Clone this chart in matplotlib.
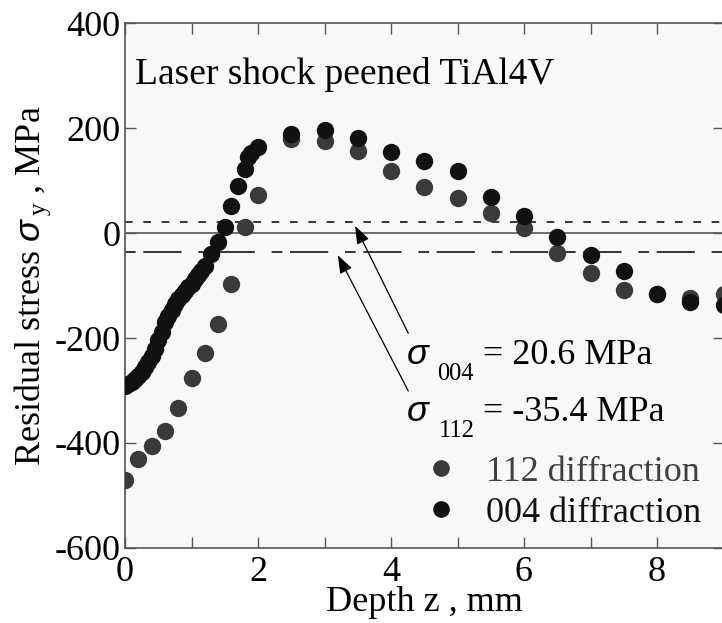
import numpy as np
import matplotlib
matplotlib.use('Agg')
import matplotlib.pyplot as plt
from matplotlib.lines import Line2D

plt.rcParams['font.family'] = ['Liberation Serif', 'DejaVu Serif']
plt.rcParams['mathtext.fontset'] = 'custom'
plt.rcParams['mathtext.rm'] = 'Liberation Serif'
plt.rcParams['mathtext.it'] = 'Liberation Sans:italic'
plt.rcParams['axes.unicode_minus'] = False

# 112 diffraction
depth112 = [0.0, 0.2, 0.4, 0.6, 0.8, 1.0, 1.2, 1.4, 1.6, 1.8, 2.0, 2.5,
            3.0, 3.5, 4.0, 4.5, 5.0, 5.5, 6.0, 6.5, 7.0, 7.5, 8.0, 8.5, 9.0]
stress112 = [-471, -430, -406, -377, -334, -276, -228, -174, -96, 12, 73, 180,
             176, 156, 118, 88, 67, 38, 10, -38, -76, -108, -116, -123, -116]

# 004 diffraction
depth004 = [0.0, 0.05, 0.1, 0.15, 0.2, 0.25, 0.3, 0.35, 0.4, 0.45, 0.5, 0.55,
            0.6, 0.65, 0.7, 0.75, 0.8, 0.85, 0.9, 0.95, 1.0, 1.05, 1.1, 1.15,
            1.2, 1.3, 1.4, 1.5, 1.6, 1.7, 1.8, 1.85, 1.9, 2.0, 2.5,
            3.0, 3.5, 4.0, 4.5, 5.0, 5.5, 6.0, 6.5, 7.0, 7.5, 8.0, 8.5, 9.0]
stress004 = [-291, -288, -283, -278, -272, -265, -256, -246, -234, -220, -203, -188,
             -170, -158, -147, -136, -126, -118, -110, -103, -96, -88, -80, -72,
             -63, -40, -17, 12, 52, 90, 122, 145, 153, 165, 189,
             197, 181, 155, 138, 118, 69, 32, -8, -41, -73, -116, -132, -137]

mean004 = 20.6
mean112 = -35.4

c112 = '#3a3a3a'
c004 = '#111111'
fs = 26

fig = plt.figure(figsize=(7.22, 6.23), dpi=100)
ax = fig.add_axes([125 / 722, 75.3 / 623, 598.5 / 722, 524.2 / 623])
ax.set_facecolor('#f8f8f8')

ax.axhline(0, color='#555555', lw=1.2, zorder=1)
ax.axhline(mean004, color='black', lw=1.1, dashes=(5, 7), zorder=1)
ax.axhline(mean112, color='black', lw=1.1, dashes=(7, 5, 25, 11), zorder=1)

ax.plot(depth112, stress112, 'o', color=c112, ms=12.5, mec='none', zorder=3)
ax.plot(depth004, stress004, 'o', color=c004, ms=12.5, mec='none', zorder=4)

ax.set_xlim(0, 9)
ax.set_ylim(-600, 400)
ax.set_xticks(np.arange(0, 10, 2))
ax.set_xticks(np.arange(0, 10, 1), minor=True)
ax.set_yticks(np.arange(-600, 401, 200))
ax.tick_params(which='both', direction='in', length=8, width=1, color='#555555',
               top=True, right=True, labelsize=fs, pad=3)
ax.tick_params(axis='x', pad=6)
for s in ax.spines.values():
    s.set_color('#555555')
    s.set_linewidth(1.2)

ax.set_xlabel('Depth z , mm', fontsize=fs, labelpad=-2)
ax.set_ylabel(r'Residual stress $\sigma_{\,\rm y}$ , MPa', fontsize=fs, labelpad=1)

ax.text(0.15, 302, 'Laser shock peened TiAl4V', fontsize=27, va='center', ha='left')

arrow = dict(arrowstyle='-|>,head_length=1.1,head_width=0.4',
             color='black', lw=0.9, shrinkA=0, shrinkB=0)
ax.annotate('', xy=(3.46, 14), xytext=(4.26, -191), arrowprops=arrow)
ax.annotate('', xy=(3.2, -42), xytext=(4.26, -301), arrowprops=arrow)

sig = dict(family='Liberation Sans', style='italic', fontsize=fs)
ax.text(4.24, -250, '\u03c3', ha='left', va='baseline', **sig)
ax.text(4.69, -269, '004', ha='left', va='center', fontsize=fs * 0.68)
ax.text(5.38, -250, '= %.1f MPa' % mean004, ha='left', va='baseline', fontsize=fs)
ax.text(4.24, -358, '\u03c3', ha='left', va='baseline', **sig)
ax.text(4.72, -378, '112', ha='left', va='center', fontsize=fs * 0.68)
ax.text(5.38, -358, '= %.1f MPa' % mean112, ha='left', va='baseline', fontsize=fs)

handles = [Line2D([], [], ls='none', marker='o', ms=12, color=c112, mec='none'),
           Line2D([], [], ls='none', marker='o', ms=12, color=c004, mec='none')]
leg = ax.legend(handles, ['112 diffraction', '004 diffraction'], loc='center left',
                bbox_to_anchor=(0.468, 0.105), frameon=False, fontsize=fs,
                handlelength=1.0, handletextpad=0.75, labelspacing=0.2,
                labelcolor=['#404040', c004], borderpad=0)

fig.savefig('out.png', dpi=100)
